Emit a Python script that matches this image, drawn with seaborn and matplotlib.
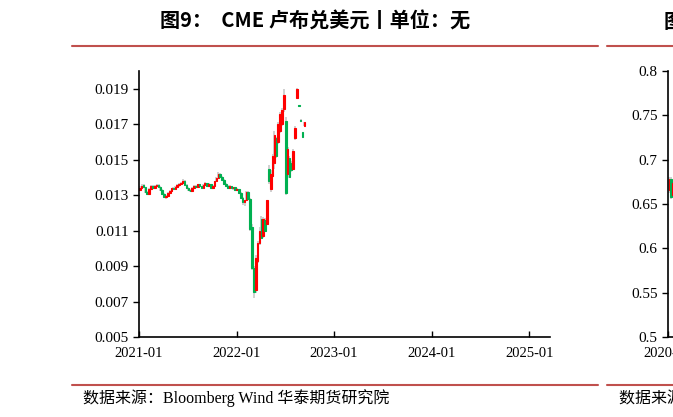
import matplotlib
matplotlib.use("Agg")
import matplotlib.pyplot as plt
import matplotlib.dates as mdates
from matplotlib.lines import Line2D
from matplotlib.ticker import FixedLocator, FormatStrFormatter
import seaborn as sns
import pandas as pd

# weekly CME RUB/USD candles
rub_open = [
    .01330, .01342, .01355, .01345, .01318, .01308, .01332, .01350, .01342, .01350,
    .01358, .01345, .01328, .01305, .01290, .01294, .01310, .01326, .01338, .01334,
    .01346, .01355, .01362, .01370, .01382, .01355, .01340, .01328, .01324, .01340,
    .01350, .01346, .01360, .01350, .01340, .01358, .01366, .01350, .01360, .01342,
    .01352, .01378, .01398, .01420, .01402, .01386, .01362, .01350, .01338, .01350,
    .01340, .01344, .01330, .01334, .01310, .01285, .01260, .01270, .01318, .01278,
    .01120, .00890, .00765, .00930, .01030, .01165, .01070, .01160, .01140, .01450,
    .01335, .01410, .01480, .01620, .01600, .01660, .01700, .01785, .01720, .01420,
    .01510, .01480, .01450, .01620, .01850, .01808, .01726, .01655, .01690,
]
rub_high = [
    .01352, .01360, .01362, .01348, .01325, .01338, .01356, .01358, .01355, .01364,
    .01362, .01350, .01332, .01310, .01298, .01315, .01330, .01342, .01348, .01352,
    .01360, .01368, .01375, .01390, .01385, .01360, .01345, .01335, .01345, .01356,
    .01358, .01365, .01364, .01354, .01362, .01372, .01370, .01366, .01364, .01356,
    .01382, .01402, .01428, .01425, .01408, .01390, .01368, .01355, .01356, .01354,
    .01348, .01348, .01338, .01336, .01315, .01290, .01275, .01325, .01322, .01285,
    .01135, .00900, .00960, .01040, .01120, .01180, .01175, .01170, .01275, .01470,
    .01440, .01530, .01660, .01630, .01710, .01770, .01790, .01900, .01740, .01570,
    .01520, .01490, .01560, .01690, .01905, .01810, .01728, .01658, .01712,
]
rub_low = [
    .01322, .01335, .01338, .01312, .01300, .01305, .01328, .01336, .01335, .01345,
    .01340, .01322, .01300, .01285, .01278, .01290, .01305, .01320, .01330, .01328,
    .01340, .01348, .01356, .01365, .01350, .01335, .01322, .01318, .01320, .01335,
    .01340, .01342, .01345, .01335, .01336, .01352, .01345, .01346, .01338, .01338,
    .01348, .01372, .01392, .01398, .01380, .01358, .01345, .01332, .01334, .01335,
    .01330, .01326, .01322, .01305, .01280, .01245, .01238, .01265, .01272, .01100,
    .00880, .00718, .00750, .00915, .01020, .01050, .01060, .01090, .01130, .01360,
    .01320, .01400, .01450, .01510, .01590, .01650, .01690, .01770, .01300, .01400,
    .01395, .01430, .01440, .01610, .01845, .01798, .01716, .01628, .01688,
]
rub_close = [
    .01342, .01352, .01345, .01318, .01308, .01332, .01350, .01342, .01350, .01358,
    .01345, .01328, .01305, .01290, .01294, .01310, .01326, .01338, .01334, .01346,
    .01355, .01362, .01370, .01382, .01355, .01340, .01328, .01324, .01340, .01350,
    .01346, .01360, .01350, .01340, .01358, .01366, .01350, .01360, .01342, .01352,
    .01378, .01398, .01420, .01402, .01386, .01362, .01350, .01338, .01350, .01340,
    .01344, .01330, .01334, .01310, .01285, .01260, .01270, .01318, .01278, .01110,
    .00890, .00755, .00945, .01030, .01100, .01060, .01165, .01100, .01270, .01380,
    .01420, .01520, .01640, .01520, .01700, .01760, .01780, .01865, .01310, .01560,
    .01400, .01440, .01550, .01680, .01900, .01800, .01720, .01630, .01710,
]
rub_start = "2021-01-04"

# the next chart, cut off at the right edge
next_open = [.6660, .6780, .6600, .6740]
next_high = [.6800, .6800, .6760, .6750]
next_low = [.6620, .6560, .6580, .6540]
next_close = [.6780, .6580, .6740, .6560]
next_start = "2020-01-06"

rub_ticks = [0.005, 0.007, 0.009, 0.011, 0.013, 0.015, 0.017, 0.019]
next_ticks = [0.5, 0.55, 0.6, 0.65, 0.7, 0.75, 0.8]

UP = "#FF0000"
DOWN = "#00B050"
WICK = "#C8C8C8"
RULE = "#C0504D"

sns.set_style("ticks")
plt.rcParams["font.family"] = ["Liberation Serif", "Noto Sans CJK SC"]
plt.rcParams["axes.linewidth"] = 1.2
for key in ("text.color", "xtick.color", "ytick.color", "axes.edgecolor", "axes.labelcolor"):
    plt.rcParams[key] = "black"


def candles(ax, start, o, h, l, c):
    df = pd.DataFrame({"open": o, "high": h, "low": l, "close": c})
    df["date"] = pd.date_range(start, periods=len(df), freq="7D")
    df["up"] = df["close"] >= df["open"]
    ax.vlines(df["date"], df["low"], df["high"], color=WICK, lw=1.2, zorder=1)
    colors = [UP if u else DOWN for u in df["up"]]
    bottoms = df[["open", "close"]].min(axis=1)
    heights = (df["close"] - df["open"]).abs()
    ax.bar(df["date"], heights, bottom=bottoms, width=6, color=colors,
           edgecolor=colors, linewidth=0.8, zorder=2)


def style_axis(ax, ticks, fmt, top, xstart, xend):
    sns.despine(ax=ax)
    ax.set_ylim(ticks[0], top)
    ax.yaxis.set_major_locator(FixedLocator(ticks))
    ax.yaxis.set_major_formatter(FormatStrFormatter(fmt))
    ax.set_xlim(pd.Timestamp(xstart), pd.Timestamp(xend))
    ax.xaxis.set_major_locator(mdates.YearLocator())
    ax.xaxis.set_major_formatter(mdates.DateFormatter("%Y-%m"))
    ax.tick_params(axis="y", direction="out", length=4, width=1, labelsize=11)
    ax.tick_params(axis="x", direction="in", length=4, width=1, labelsize=10.5, pad=7)
    ax.set_xlabel("")
    ax.set_ylabel("")
    ax.set_facecolor("white")


W, H = 673, 417
fig = plt.figure(figsize=(W / 100, H / 100), dpi=100)

ax = fig.add_axes([139 / W, 1 - 337 / H, 411 / W, 266 / H])
candles(ax, rub_start, rub_open, rub_high, rub_low, rub_close)
style_axis(ax, rub_ticks, "%.3f", 0.020, "2021-01-01", "2025-03-19")

ax2 = fig.add_axes([668 / W, 1 - 337 / H, 411 / W, 266 / H])
candles(ax2, next_start, next_open, next_high, next_low, next_close)
style_axis(ax2, next_ticks, "%g", 0.8, "2020-01-01", "2024-03-19")

# titles, rules and source lines
fig.text(160 / W, 1 - 21 / H, "图9：  CME 卢布兑美元丨单位：无", fontsize=14.5,
         fontweight="bold", family=["Noto Sans CJK SC"], va="center", ha="left")
fig.text(664 / W, 1 - 21 / H, "图10：", fontsize=14.5,
         fontweight="bold", family=["Noto Sans CJK SC"], va="center", ha="left")
for x0, x1 in [(72, 598), (607, 680)]:
    for y in (46, 385):
        fig.add_artist(Line2D([x0 / W, x1 / W], [1 - y / H, 1 - y / H],
                              color=RULE, lw=1.5))
fig.text(83 / W, 1 - 398 / H, "数据来源：Bloomberg Wind 华泰期货研究院",
         fontsize=11.5, va="center", ha="left")
fig.text(619 / W, 1 - 398 / H, "数据来源：Bloomberg Wind 华泰期货研究院",
         fontsize=11.5, va="center", ha="left")

fig.savefig("out.png", dpi=100)
